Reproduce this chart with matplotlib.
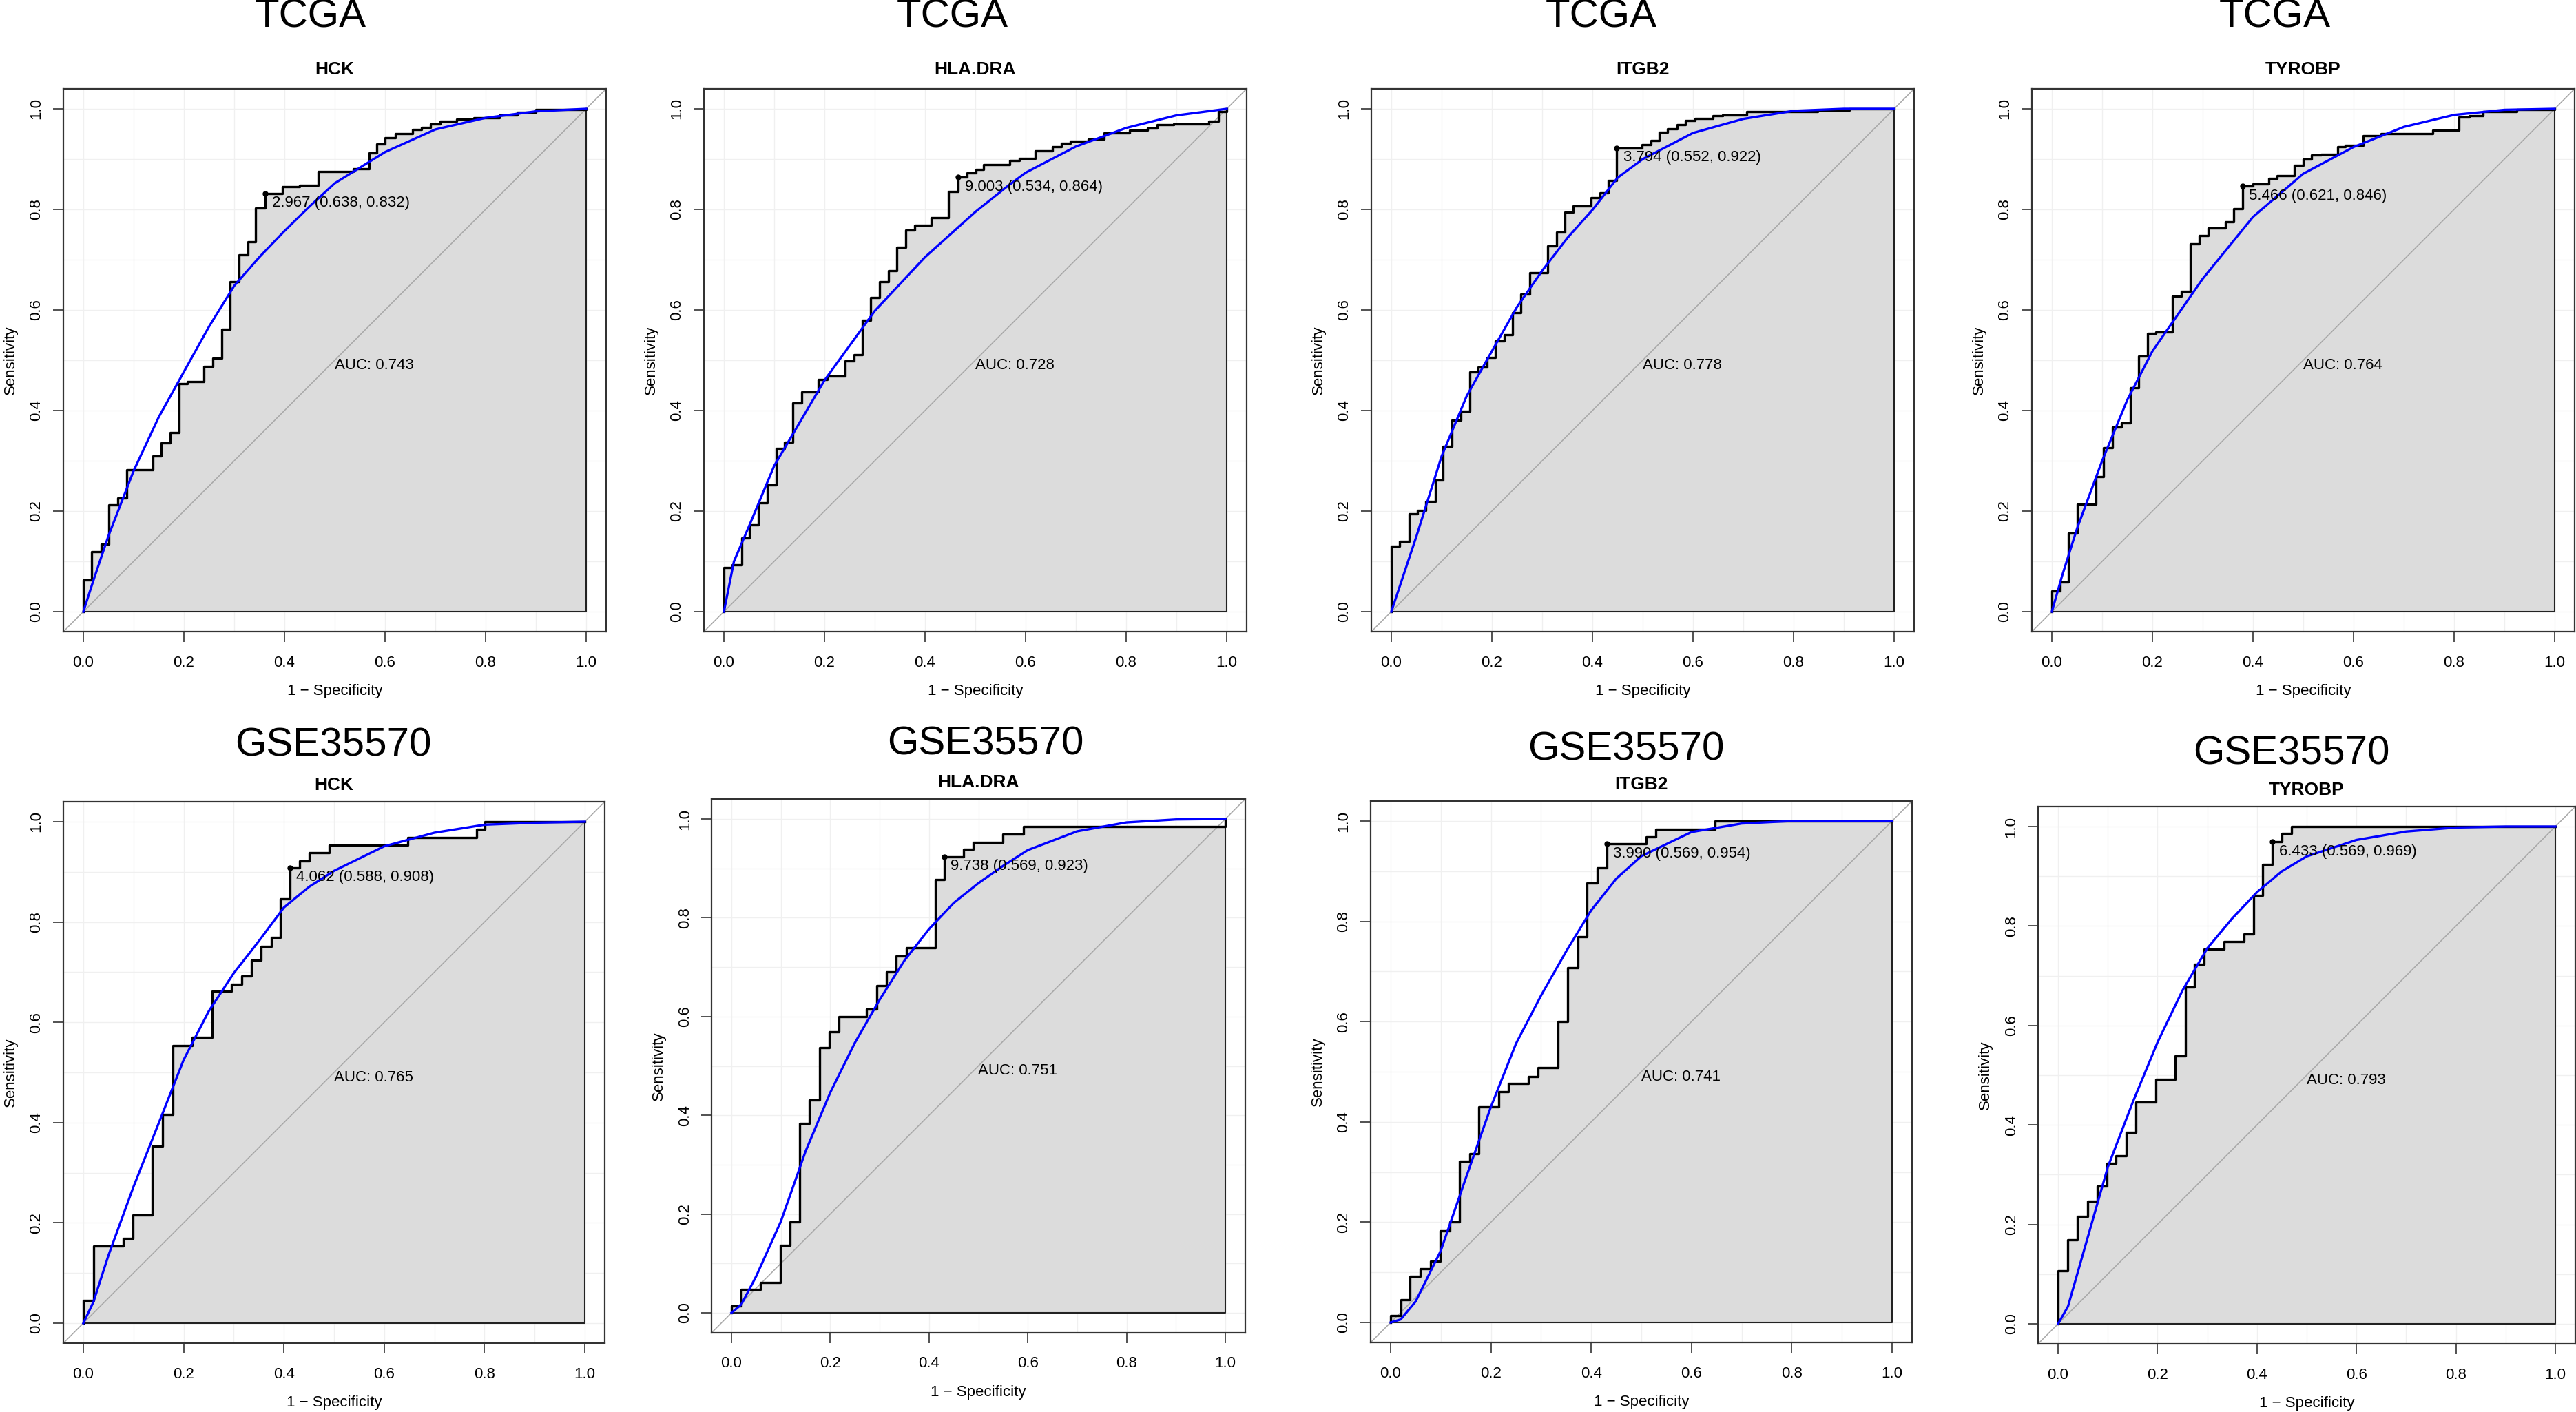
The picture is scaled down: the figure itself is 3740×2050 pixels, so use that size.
import matplotlib
matplotlib.use("Agg")
import matplotlib.pyplot as plt

plt.rcParams['font.family'] = ['Liberation Sans', 'DejaVu Sans']

W, H = 3740, 2050

# ---- data ----
# step curves: x where a vertical jump happens, level after the jump
tcga_hck_fpr = [0, 0, 0.017, 0.035, 0.051, 0.068, 0.086, 0.138, 0.155, 0.172, 0.190, 0.207, 0.240, 0.258,
                0.276, 0.292, 0.310, 0.327, 0.343, 0.362, 0.396, 0.430, 0.467, 0.537, 0.569, 0.584, 0.600,
                0.620, 0.655, 0.673, 0.690, 0.709, 0.742, 0.777, 0.828, 0.863, 0.900, 1.0]
tcga_hck_tpr = [0, 0.063, 0.119, 0.134, 0.213, 0.226, 0.282, 0.309, 0.335, 0.356, 0.453, 0.457, 0.488, 0.504,
                0.561, 0.656, 0.709, 0.736, 0.803, 0.832, 0.845, 0.848, 0.876, 0.881, 0.913, 0.930, 0.943,
                0.950, 0.959, 0.963, 0.970, 0.975, 0.979, 0.982, 0.988, 0.993, 0.998, 1.0]
tcga_hck_sx = [0, 0.02, 0.05, 0.1, 0.15, 0.2, 0.25, 0.3, 0.35, 0.4, 0.45, 0.5, 0.55, 0.6, 0.7, 0.8, 0.9, 1.0]
tcga_hck_sy = [0, 0.062, 0.151, 0.28, 0.387, 0.477, 0.567, 0.648, 0.705, 0.757, 0.806, 0.852, 0.883, 0.914,
               0.959, 0.982, 0.995, 1.0]

tcga_hla_fpr = [0, 0, 0.017, 0.035, 0.051, 0.069, 0.086, 0.104, 0.121, 0.137, 0.155, 0.188, 0.206, 0.241,
                0.259, 0.275, 0.292, 0.310, 0.328, 0.344, 0.362, 0.379, 0.413, 0.447, 0.466, 0.483, 0.501,
                0.517, 0.568, 0.587, 0.619, 0.654, 0.671, 0.689, 0.725, 0.756, 0.807, 0.843, 0.862, 0.894,
                0.965, 0.983, 1.0]
tcga_hla_tpr = [0, 0.087, 0.093, 0.146, 0.172, 0.216, 0.252, 0.325, 0.337, 0.415, 0.437, 0.461, 0.468, 0.499,
                0.511, 0.580, 0.625, 0.656, 0.678, 0.724, 0.759, 0.769, 0.783, 0.835, 0.864, 0.873, 0.879,
                0.889, 0.897, 0.902, 0.916, 0.924, 0.931, 0.936, 0.940, 0.952, 0.958, 0.961, 0.968, 0.970,
                0.976, 0.994, 1.0]
tcga_hla_sx = [0, 0.02, 0.05, 0.1, 0.15, 0.2, 0.3, 0.4, 0.5, 0.56, 0.6, 0.7, 0.8, 0.9, 1.0]
tcga_hla_sy = [0, 0.10, 0.17, 0.29, 0.375, 0.46, 0.598, 0.705, 0.795, 0.843, 0.873, 0.925, 0.962, 0.987, 1.0]

tcga_itg_fpr = [0, 0, 0.017, 0.035, 0.052, 0.069, 0.087, 0.103, 0.120, 0.138, 0.156, 0.173, 0.190, 0.207,
                0.224, 0.241, 0.258, 0.275, 0.311, 0.329, 0.345, 0.362, 0.397, 0.415, 0.431, 0.448, 0.498,
                0.516, 0.533, 0.549, 0.569, 0.585, 0.604, 0.640, 0.659, 0.707, 0.738, 0.848, 0.911, 1.0]
tcga_itg_tpr = [0, 0.130, 0.140, 0.195, 0.201, 0.219, 0.262, 0.329, 0.381, 0.399, 0.477, 0.486, 0.505, 0.538,
                0.550, 0.594, 0.632, 0.674, 0.728, 0.755, 0.795, 0.807, 0.823, 0.833, 0.857, 0.922, 0.929,
                0.937, 0.954, 0.960, 0.969, 0.977, 0.981, 0.986, 0.988, 0.994, 0.995, 0.997, 1.0, 1.0]
tcga_itg_sx = [0, 0.02, 0.05, 0.1, 0.15, 0.2, 0.25, 0.3, 0.35, 0.4, 0.45, 0.5, 0.6, 0.7, 0.8, 0.9, 1.0]
tcga_itg_sy = [0, 0.06, 0.15, 0.309, 0.429, 0.518, 0.606, 0.678, 0.743, 0.799, 0.863, 0.9, 0.952, 0.98, 0.996,
               1.0, 1.0]

tcga_tyr_fpr = [0, 0, 0.017, 0.033, 0.051, 0.087, 0.103, 0.121, 0.138, 0.156, 0.172, 0.190, 0.207, 0.240,
                0.258, 0.276, 0.293, 0.311, 0.345, 0.361, 0.379, 0.400, 0.432, 0.448, 0.482, 0.500, 0.516,
                0.536, 0.568, 0.583, 0.619, 0.655, 0.758, 0.810, 0.830, 0.858, 0.925, 1.0]
tcga_tyr_tpr = [0, 0.041, 0.059, 0.156, 0.214, 0.268, 0.326, 0.367, 0.375, 0.445, 0.508, 0.554, 0.556, 0.628,
                0.637, 0.731, 0.748, 0.763, 0.775, 0.801, 0.846, 0.851, 0.862, 0.867, 0.887, 0.900, 0.908,
                0.910, 0.924, 0.928, 0.946, 0.950, 0.957, 0.984, 0.986, 0.994, 0.998, 1.0]
tcga_tyr_sx = [0, 0.02, 0.05, 0.1, 0.15, 0.2, 0.25, 0.3, 0.4, 0.5, 0.6, 0.7, 0.8, 0.9, 1.0]
tcga_tyr_sy = [0, 0.07, 0.165, 0.30, 0.421, 0.518, 0.59, 0.662, 0.785, 0.871, 0.924, 0.964, 0.988, 0.998, 1.0]

gse_hck_fpr = [0, 0, 0.020, 0.079, 0.099, 0.138, 0.158, 0.178, 0.217, 0.257, 0.296, 0.316, 0.335, 0.355,
               0.375, 0.393, 0.412, 0.432, 0.451, 0.491, 0.647, 0.785, 0.801, 1.0]
gse_hck_tpr = [0, 0.046, 0.154, 0.169, 0.215, 0.353, 0.416, 0.554, 0.570, 0.662, 0.676, 0.692, 0.724, 0.752,
               0.769, 0.846, 0.908, 0.922, 0.938, 0.953, 0.969, 0.985, 1.0, 1.0]
gse_hck_sx = [0, 0.02, 0.05, 0.1, 0.15, 0.2, 0.25, 0.3, 0.35, 0.4, 0.45, 0.5, 0.6, 0.7, 0.8, 0.9, 1.0]
gse_hck_sy = [0, 0.042, 0.135, 0.272, 0.398, 0.525, 0.622, 0.698, 0.762, 0.829, 0.87, 0.902, 0.951, 0.978,
              0.994, 0.998, 1.0]

gse_hla_fpr = [0, 0, 0.019, 0.059, 0.099, 0.119, 0.138, 0.158, 0.178, 0.198, 0.218, 0.274, 0.294, 0.314,
               0.334, 0.354, 0.413, 0.431, 0.470, 0.490, 0.550, 0.591, 1.0]
gse_hla_tpr = [0, 0.014, 0.047, 0.061, 0.137, 0.184, 0.384, 0.431, 0.537, 0.569, 0.600, 0.615, 0.662, 0.691,
               0.723, 0.739, 0.877, 0.923, 0.938, 0.953, 0.969, 0.985, 1.0]
gse_hla_sx = [0, 0.02, 0.05, 0.1, 0.15, 0.2, 0.25, 0.3, 0.35, 0.4, 0.45, 0.5, 0.55, 0.6, 0.7, 0.8, 0.9, 1.0]
gse_hla_sy = [0, 0.017, 0.074, 0.185, 0.327, 0.446, 0.547, 0.634, 0.713, 0.777, 0.83, 0.87, 0.905, 0.937,
              0.975, 0.993, 0.999, 1.0]

gse_itg_fpr = [0, 0, 0.020, 0.039, 0.059, 0.079, 0.099, 0.118, 0.137, 0.158, 0.176, 0.215, 0.235, 0.275,
               0.294, 0.334, 0.353, 0.373, 0.392, 0.412, 0.431, 0.509, 0.529, 0.647, 1.0]
gse_itg_tpr = [0, 0.014, 0.046, 0.092, 0.107, 0.122, 0.183, 0.200, 0.322, 0.337, 0.430, 0.460, 0.477, 0.491,
               0.508, 0.600, 0.707, 0.769, 0.876, 0.907, 0.954, 0.968, 0.984, 1.0, 1.0]
gse_itg_sx = [0, 0.02, 0.05, 0.1, 0.15, 0.2, 0.25, 0.3, 0.35, 0.4, 0.45, 0.5, 0.6, 0.7, 0.8, 0.9, 1.0]
gse_itg_sy = [0, 0.006, 0.042, 0.143, 0.288, 0.43, 0.556, 0.652, 0.74, 0.822, 0.885, 0.93, 0.978, 0.995, 1.0,
              1.0, 1.0]

gse_tyr_fpr = [0, 0, 0.019, 0.039, 0.059, 0.079, 0.099, 0.117, 0.137, 0.157, 0.196, 0.236, 0.256, 0.274,
               0.294, 0.334, 0.374, 0.394, 0.412, 0.431, 0.450, 0.470, 1.0]
gse_tyr_tpr = [0, 0.107, 0.169, 0.216, 0.246, 0.277, 0.323, 0.338, 0.385, 0.446, 0.492, 0.539, 0.677, 0.723,
               0.753, 0.769, 0.784, 0.862, 0.924, 0.969, 0.986, 1.0, 1.0]
gse_tyr_sx = [0, 0.02, 0.05, 0.1, 0.15, 0.2, 0.25, 0.3, 0.35, 0.4, 0.45, 0.5, 0.6, 0.7, 0.8, 0.9, 1.0]
gse_tyr_sy = [0, 0.035, 0.14, 0.315, 0.445, 0.566, 0.67, 0.755, 0.815, 0.868, 0.91, 0.94, 0.973, 0.99, 0.998,
              1.0, 1.0]

datasets = ['TCGA'] * 4 + ['GSE35570'] * 4
genes = ['HCK', 'HLA.DRA', 'ITGB2', 'TYROBP'] * 2
auc = [0.743, 0.728, 0.778, 0.764, 0.765, 0.751, 0.741, 0.793]
thresholds = [2.967, 9.003, 3.794, 5.466, 4.062, 9.738, 3.990, 6.433]
best_spec = [0.638, 0.534, 0.552, 0.621, 0.588, 0.569, 0.569, 0.569]
best_sens = [0.832, 0.864, 0.922, 0.846, 0.908, 0.923, 0.954, 0.969]

steps = [(tcga_hck_fpr, tcga_hck_tpr), (tcga_hla_fpr, tcga_hla_tpr), (tcga_itg_fpr, tcga_itg_tpr),
         (tcga_tyr_fpr, tcga_tyr_tpr), (gse_hck_fpr, gse_hck_tpr), (gse_hla_fpr, gse_hla_tpr),
         (gse_itg_fpr, gse_itg_tpr), (gse_tyr_fpr, gse_tyr_tpr)]
smooth = [(tcga_hck_sx, tcga_hck_sy), (tcga_hla_sx, tcga_hla_sy), (tcga_itg_sx, tcga_itg_sy),
          (tcga_tyr_sx, tcga_tyr_sy), (gse_hck_sx, gse_hck_sy), (gse_hla_sx, gse_hla_sy),
          (gse_itg_sx, gse_itg_sy), (gse_tyr_sx, gse_tyr_sy)]

# ---- layout (pixels): x of 0.0, y of 0.0 (from top), unit length ----
origins = [(121, 888, 730), (1051, 888, 730), (2020, 888, 730), (2979, 888, 730),
           (121, 1921, 728), (1062, 1906, 717), (2019, 1920, 728), (2988, 1922, 722)]
super_xy = [(451, 24), (1383, 24), (2325, 24), (3303, 24),
            (484, 1082), (1431, 1081), (2361, 1088), (3327, 1094)]
gene_gap = [28, 28, 28, 28, 24, 24, 24, 24]

fig = plt.figure(figsize=(W / 100, H / 100), dpi=100)

for i in range(8):
    ox, oy, u = origins[i]
    ax = fig.add_axes([(ox - 0.04 * u) / W, 1 - (oy + 0.04 * u) / H, 1.08 * u / W, 1.08 * u / H])
    ax.set_xlim(-0.04, 1.04)
    ax.set_ylim(-0.04, 1.04)

    # faint grid
    for g in [k / 10 for k in range(11)]:
        ax.axvline(g, color='#F0F0F0', lw=1, zorder=0)
        ax.axhline(g, color='#F0F0F0', lw=1, zorder=0)

    fpr, tpr = steps[i]
    ax.fill_between(fpr, tpr, 0, step='post', facecolor='#DCDCDC', lw=0, zorder=1)
    ax.plot([0, 1, 1], [0, 0, 1], color='#222222', lw=1.5, zorder=2)
    ax.plot([-0.04, 1.04], [-0.04, 1.04], color='#A6A6A6', lw=1.1, zorder=2)
    ax.plot(fpr, tpr, drawstyle='steps-post', color='black', lw=2.4, zorder=3)

    sx, sy = smooth[i]
    ax.plot(sx, sy, color='#0000FF', lw=2.4, zorder=4, solid_joinstyle='round')

    px = 1 - best_spec[i]
    py = best_sens[i]
    ax.plot([px], [py], 'o', color='black', ms=5, zorder=5)
    ax.text(px + 0.013, py - 0.019, '%.3f (%.3f, %.3f)' % (thresholds[i], best_spec[i], best_sens[i]),
            fontsize=16, ha='left', va='center', zorder=6)
    ax.text(0.5, 0.49, 'AUC: %.3f' % auc[i], fontsize=16, ha='left', va='center', zorder=6)

    ticks = [0, 0.2, 0.4, 0.6, 0.8, 1.0]
    ax.set_xticks(ticks)
    ax.set_yticks(ticks)
    ax.set_xticklabels(['%.1f' % t for t in ticks])
    ax.set_yticklabels(['%.1f' % t for t in ticks], rotation=90, va='center')
    ax.tick_params(length=10.5, width=1.2, color='#333333', labelsize=16)
    ax.tick_params(axis='x', pad=14.5)
    ax.tick_params(axis='y', pad=10)
    for s in ax.spines.values():
        s.set_color('#333333')
        s.set_linewidth(1.6)
    ax.set_xlabel('1 − Specificity', fontsize=16, labelpad=14.5)
    ax.set_ylabel('Sensitivity', fontsize=16, labelpad=12)

    # gene title and data-set title
    ax.text(0.5, 1 + gene_gap[i] / (1.08 * u), genes[i], transform=ax.transAxes, ha='center', va='center',
            fontsize=19, fontweight='bold')
    tx, ty = super_xy[i]
    fig.text(tx / W, 1 - ty / H, datasets[i], ha='center', va='center', fontsize=42)

fig.savefig('out.png', dpi=100, facecolor='white')
